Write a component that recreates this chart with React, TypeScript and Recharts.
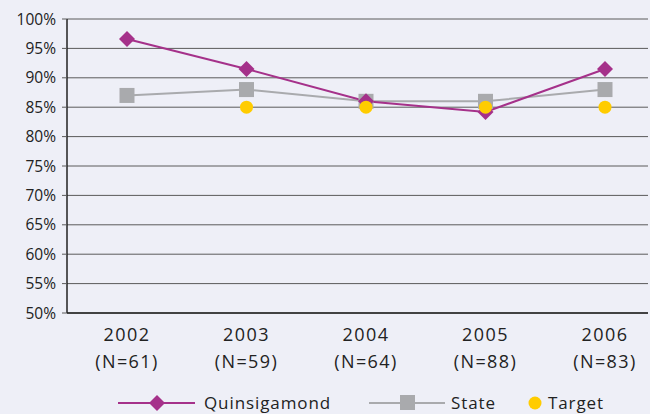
import { LineChart, Line, XAxis, YAxis, CartesianGrid } from "recharts";

const years = ["2002", "2003", "2004", "2005", "2006"];
const counts = ["(N=61)", "(N=59)", "(N=64)", "(N=88)", "(N=83)"];
const quinsigamond = [96.6, 91.5, 86, 84.2, 91.5];
const state = [87, 88, 86, 86, 88];
const target = [null, 85, 85, 85, 85];
const yTicks = [50, 55, 60, 65, 70, 75, 80, 85, 90, 95, 100];

const PURPLE = "#A5318A";
const GREY = "#A9AAAD";
const GOLD = "#FFCC00";
const FONT = "'Open Sans', sans-serif";

const data = years.map((y, i) => ({
  year: y,
  n: counts[i],
  quinsigamond: quinsigamond[i],
  state: state[i],
  target: target[i],
}));

const Diamond = (props: any) => {
  const { cx, cy } = props;
  if (cx == null || cy == null) return null;
  return <polygon points={`${cx},${cy - 8} ${cx + 8},${cy} ${cx},${cy + 8} ${cx - 8},${cy}`} fill={PURPLE} />;
};

const Square = (props: any) => {
  const { cx, cy } = props;
  if (cx == null || cy == null) return null;
  return <rect x={cx - 7.5} y={cy - 7.5} width={15} height={15} fill={GREY} />;
};

const Dot = (props: any) => {
  const { cx, cy, value } = props;
  if (cx == null || cy == null || value == null) return null;
  return <circle cx={cx} cy={cy} r={6.5} fill={GOLD} />;
};

const XTick = (props: any) => {
  const { x, y, index } = props;
  return (
    <text x={x} textAnchor="middle" fill="#222" fontSize={18} fontFamily={FONT} letterSpacing={1.4}>
      <tspan x={x} y={y + 20}>{years[index]}</tspan>
      <tspan x={x} y={y + 47}>{counts[index]}</tspan>
    </text>
  );
};

export default function App() {
  return (
    <div style={{ position: "absolute", left: 0, top: 0, width: 650, height: 414, background: "#EEEFF7", fontFamily: FONT }}>
      <LineChart width={650} height={414} data={data} margin={{ top: 19, right: 2, left: 0, bottom: 41 }}>
        <CartesianGrid vertical={false} stroke="#5a5a5a" strokeWidth={1} />
        <XAxis
          dataKey="year"
          scale="point"
          padding={{ left: 60, right: 43 }}
          height={60}
          axisLine={{ stroke: "#222", strokeWidth: 1.5 }}
          tickLine={false}
          tick={<XTick />}
          interval={0}
        />
        <YAxis
          domain={[50, 100]}
          ticks={yTicks}
          width={67}
          tickFormatter={(v: number) => `${v}%`}
          axisLine={{ stroke: "#222", strokeWidth: 1.5 }}
          tickLine={{ stroke: "#5a5a5a" }}
          tickSize={5}
          tickMargin={6}
          tick={{ fill: "#222", fontSize: 15.5, fontFamily: FONT }}
          interval={0}
        />
        <Line dataKey="state" stroke={GREY} strokeWidth={2} dot={<Square />} isAnimationActive={false} />
        <Line dataKey="quinsigamond" stroke={PURPLE} strokeWidth={2} dot={<Diamond />} isAnimationActive={false} />
        <Line dataKey="target" stroke="none" strokeWidth={0} dot={<Dot />} isAnimationActive={false} />
      </LineChart>
      <svg width={650} height={30} style={{ position: "absolute", left: 0, top: 389 }}>
        <line x1={118} x2={195} y1={14} y2={14} stroke={PURPLE} strokeWidth={2} />
        <polygon points="157,6 165,14 157,22 149,14" fill={PURPLE} />
        <text x={204} y={20} fontSize={17} fill="#222" fontFamily={FONT} letterSpacing={0.9}>Quinsigamond</text>
        <line x1={369} x2={445} y1={14} y2={14} stroke={GREY} strokeWidth={2} />
        <rect x={400} y={6} width={15} height={15} fill={GREY} />
        <text x={451} y={20} fontSize={17} fill="#222" fontFamily={FONT} letterSpacing={0.9}>State</text>
        <circle cx={535} cy={14} r={6.5} fill={GOLD} />
        <text x={548} y={20} fontSize={17} fill="#222" fontFamily={FONT} letterSpacing={0.9}>Target</text>
      </svg>
    </div>
  );
}
